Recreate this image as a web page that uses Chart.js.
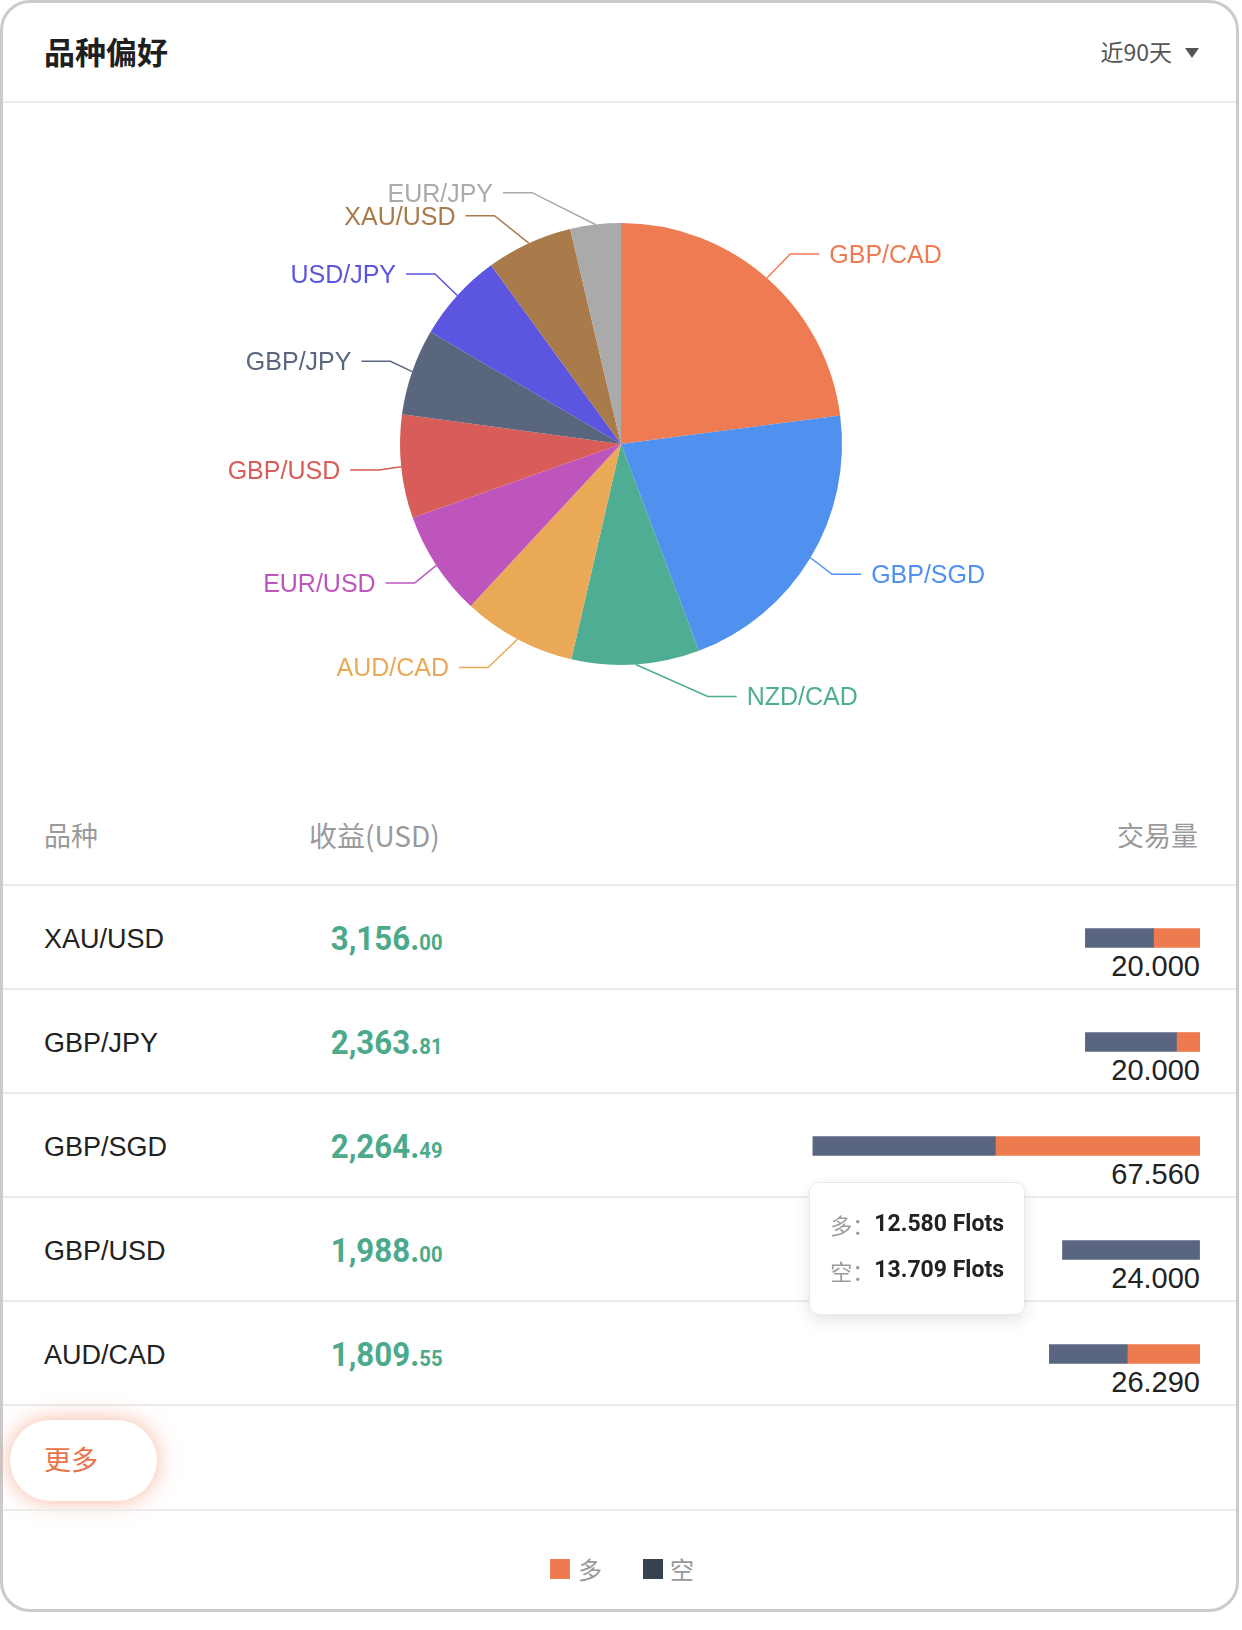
<!DOCTYPE html>
<html lang="zh-CN">
<head>
<meta charset="UTF-8">
<title>品种偏好</title>
<script src="https://cdn.jsdelivr.net/npm/chart.js"></script>
<style>
  body { margin: 0; width: 1242px; height: 1630px; background: #fff; position: relative; overflow: hidden;
         font-family: "Liberation Sans", "Noto Sans CJK SC", sans-serif; }
  .abs { position: absolute; white-space: nowrap; }
  #card { left: 0; top: 0; width: 1233px; height: 1606px; border: 3px solid #cbcbcb; border-radius: 30px; }
  .line { position: absolute; left: 3px; width: 1233px; height: 2px; background: #ebebeb; }
  .cjk { font-family: "Noto Sans CJK SC", sans-serif; }
  .num { font-family: Roboto, "Liberation Sans", sans-serif; font-weight: 700; color: #4caa8b;
         transform: scaleX(0.92); transform-origin: right center; }
  #tip { position: absolute; width: 214px; height: 131px; background: #fff; border: 1px solid #e8e8e8;
         border-radius: 10px; box-shadow: 0 6px 16px rgba(0,0,0,0.10); display: none; }
  #tip .lab { position: absolute; left: 20px; font-size: 22px; color: #9a9a9a; font-family: "Noto Sans CJK SC", sans-serif; }
  #tip .val { position: absolute; left: 64px; font-size: 23px; color: #222; font-family: Roboto, sans-serif; font-weight: 700; }
</style>
</head>
<body>
<div id="card" class="abs"></div>

<div class="abs cjk" style="left:44px;top:29px;line-height:44px;font-size:31px;font-weight:700;color:#1f1f1f;">品种偏好</div>
<div class="abs cjk" style="right:70px;top:31px;line-height:40px;font-size:23px;color:#555;">近90天</div>
<div class="abs" style="left:1185px;top:48px;width:0;height:0;border-left:7px solid transparent;border-right:7px solid transparent;border-top:10px solid #555;"></div>
<div class="line" style="top:101px;"></div>

<canvas id="pie" class="abs" style="left:0;top:102px;" width="1242" height="680"></canvas>

<div class="abs cjk" style="left:44px;top:815px;line-height:40px;font-size:27px;color:#9a9a9a;">品种</div>
<div class="abs cjk" style="left:309px;top:815px;line-height:40px;font-size:28px;color:#9a9a9a;">收益(USD)</div>
<div class="abs cjk" style="right:44px;top:815px;line-height:40px;font-size:27px;color:#9a9a9a;">交易量</div>
<div class="line" style="top:884px;"></div>

<div id="rows"></div>
<canvas id="bars" class="abs" style="left:700px;top:886px;" width="500" height="520"></canvas>
<div id="tip"></div>

<div class="abs" style="left:10px;top:1420px;width:147px;height:81px;border-radius:41px;background:#fff;box-shadow:0 0 22px rgba(240,120,80,0.55);"></div>
<div class="abs cjk" style="left:44px;top:1439px;line-height:40px;font-size:27px;color:#e8744a;">更多</div>
<div class="line" style="top:1509px;"></div>

<div class="abs" style="left:550px;top:1559px;width:20px;height:20px;background:#ee7b4f;"></div>
<div class="abs cjk" style="left:578px;top:1551px;line-height:36px;font-size:24px;color:#999;">多</div>
<div class="abs" style="left:643px;top:1559px;width:20px;height:20px;background:#36434f;"></div>
<div class="abs cjk" style="left:670px;top:1551px;line-height:36px;font-size:24px;color:#999;">空</div>

<script>
// pie: lots per symbol
const pieLabels = ['GBP/CAD', 'GBP/SGD', 'NZD/CAD', 'AUD/CAD', 'EUR/USD', 'GBP/USD', 'GBP/JPY', 'USD/JPY', 'XAU/USD', 'EUR/JPY'];
const pieLots = [72.7, 67.56, 29.6, 26.29, 24.3, 24.0, 20.0, 20.7, 20.0, 11.7];

// table rows
const rowSymbols = ['XAU/USD', 'GBP/JPY', 'GBP/SGD', 'GBP/USD', 'AUD/CAD'];
const rowProfits = [3156.00, 2363.81, 2264.49, 1988.00, 1809.55];
const rowVolumes = [20.000, 20.000, 67.560, 24.000, 26.290];
const longLots = [8.0, 4.0, 35.6, 0, 12.580];
const shortLots = [12.0, 16.0, 31.96, 24.0, 13.709];

const sliceColors = ['#ee7b51', '#5090ef', '#4ead93', '#eaa957', '#be55bd', '#d85c58', '#5a667e', '#5b55e0', '#a97b4b', '#aaaaaa'];
const LONG_COLOR = '#ee7b4f';
const SHORT_COLOR = '#5a6680';
const ROW_TOP = 885, ROW_H = 104;

// label lines drawn outside the pie, echarts style
const callouts = {
  id: 'callouts',
  afterDatasetsDraw(chart, args, o) {
    const ctx = chart.ctx;
    const arcs = chart.getDatasetMeta(0).data;
    const items = arcs.map((arc, i) => {
      const mid = (arc.startAngle + arc.endAngle) / 2;
      const cos = Math.cos(mid), sin = Math.sin(mid);
      const r = arc.outerRadius;
      return {
        i, dir: cos < 0 ? -1 : 1,
        x0: arc.x + cos * r, y0: arc.y + sin * r,
        nx: arc.x + cos * (r + o.len), y: arc.y + sin * (r + o.len)
      };
    });
    const cx = arcs[0].x, cy = arcs[0].y;
    const R2 = arcs[0].outerRadius + o.reach;
    [-1, 1].forEach(dir => {
      const side = items.filter(it => it.dir === dir).sort((a, b) => a.y - b.y);
      for (let k = 1; k < side.length; k++) {
        const minY = side[k - 1].y + o.height;
        if (side[k].y < minY) side[k].y = minY;
      }
      side.forEach(it => {
        const dy = Math.abs(it.y - cy);
        const dx = dy < R2 ? Math.sqrt(R2 * R2 - dy * dy) : Math.abs(it.nx - cx);
        it.tx = cx + dir * dx;
      });
    });
    ctx.save();
    ctx.font = o.font;
    ctx.lineWidth = o.lineWidth;
    ctx.textBaseline = 'middle';
    items.forEach(it => {
      const color = chart.data.datasets[0].backgroundColor[it.i];
      const lineEnd = it.tx - it.dir * o.gap;
      const elbow = lineEnd - it.dir * o.len2;
      ctx.strokeStyle = color;
      ctx.beginPath();
      ctx.moveTo(it.x0, it.y0);
      ctx.lineTo(elbow, it.y);
      ctx.lineTo(lineEnd, it.y);
      ctx.stroke();
      ctx.fillStyle = color;
      ctx.textAlign = it.dir > 0 ? 'left' : 'right';
      ctx.fillText(chart.data.labels[it.i], it.tx, it.y + 2);
    });
    ctx.restore();
  }
};

new Chart(document.getElementById('pie'), {
  type: 'pie',
  data: {
    labels: pieLabels,
    datasets: [{ data: pieLots, backgroundColor: sliceColors, borderWidth: 0 }]
  },
  options: {
    responsive: false,
    animation: false,
    events: [],
    layout: { padding: { top: 121, bottom: 117, left: 380, right: 380 } },
    plugins: {
      legend: { display: false },
      tooltip: { enabled: false },
      callouts: { len: 32, len2: 29, gap: 10, reach: 61, height: 23, lineWidth: 1.5,
                  font: '25px "Liberation Sans", "Noto Sans CJK SC", sans-serif' }
    }
  },
  plugins: [callouts]
});

// table rows
const rowsEl = document.getElementById('rows');
rowSymbols.forEach((sym, i) => {
  const top = ROW_TOP + i * ROW_H;
  const mid = top + ROW_H / 2;
  const parts = rowProfits[i].toFixed(2).split('.');
  const intPart = Number(parts[0]).toLocaleString('en-US');
  rowsEl.insertAdjacentHTML('beforeend',
    `<div class="abs" style="left:44px;top:${mid - 18}px;line-height:40px;font-size:27px;color:#222;">${sym}</div>
     <div class="abs num" style="right:${1242 - 443}px;top:${mid - 19}px;line-height:40px;font-size:34px;">${intPart}.<span style="font-size:22px;">${parts[1]}</span></div>
     <div class="abs" style="right:42px;top:${mid + 9}px;line-height:40px;font-size:29px;color:#222;">${rowVolumes[i].toFixed(3)}</div>
     <div class="line" style="top:${top + ROW_H - 1}px;"></div>`);
});

const tipEl = document.getElementById('tip');
function externalTip(context) {
  const { chart, tooltip } = context;
  const points = tooltip.dataPoints || [];
  if (!points.length) { tipEl.style.display = 'none'; return; }
  const idx = points[0].dataIndex;
  tipEl.innerHTML = points.map((p, k) =>
    `<div class="lab" style="top:${23 + k * 46}px;line-height:36px;">${p.dataset.label}：</div>
     <div class="val" style="top:${23 + k * 46}px;line-height:36px;">${Number(p.raw).toFixed(3)} Flots</div>`).join('');
  const bar = chart.getDatasetMeta(1).data[idx];
  const box = chart.canvas.getBoundingClientRect();
  const right = box.left + bar.x - 24;
  const bottom = box.top + bar.y - bar.height / 2 - 30;
  tipEl.style.display = 'block';
  tipEl.style.left = (right - 216) + 'px';
  tipEl.style.top = (bottom - 133) + 'px';
}

const barChart = new Chart(document.getElementById('bars'), {
  type: 'bar',
  data: {
    labels: rowSymbols,
    datasets: [
      { label: '多', data: longLots, backgroundColor: LONG_COLOR, barThickness: 19 },
      { label: '空', data: shortLots, backgroundColor: SHORT_COLOR, barThickness: 19 }
    ]
  },
  options: {
    indexAxis: 'y',
    responsive: false,
    animation: false,
    events: [],
    layout: { padding: 0 },
    scales: {
      x: { stacked: true, reverse: true, min: 0, max: 500 / 5.73, display: false },
      y: { stacked: true, display: false }
    },
    plugins: {
      legend: { display: false },
      tooltip: { enabled: false, mode: 'index', intersect: false, external: externalTip }
    }
  }
});

barChart.tooltip.setActiveElements(
  [{ datasetIndex: 0, index: 4 }, { datasetIndex: 1, index: 4 }],
  { x: 0, y: 0 }
);
barChart.update();
</script>
</body>
</html>
